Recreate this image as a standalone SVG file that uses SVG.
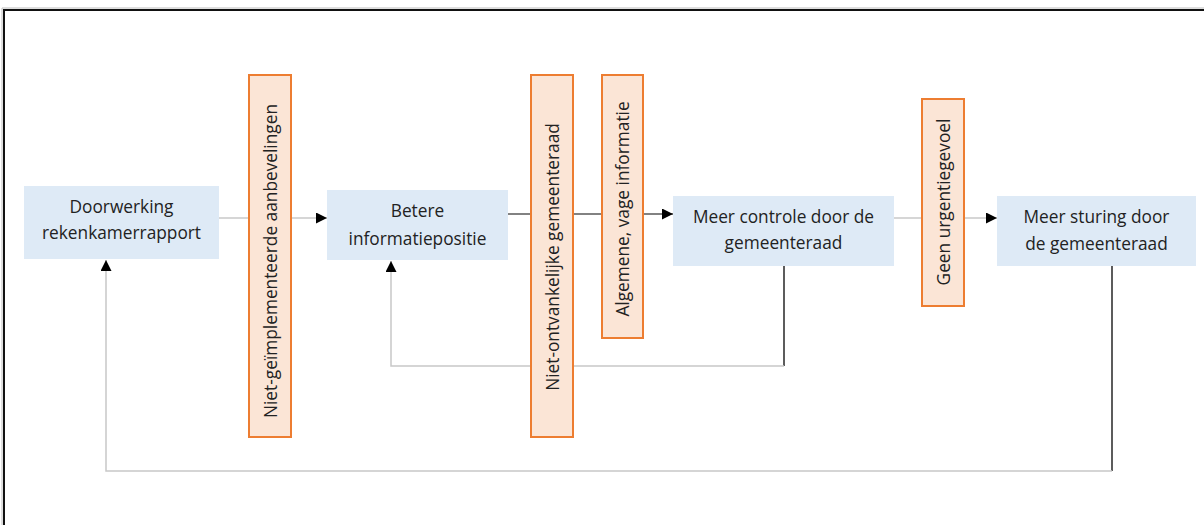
<svg xmlns="http://www.w3.org/2000/svg" width="1204" height="525" viewBox="0 0 1204 525">
<style>
.node{fill:#DEEAF6;}
.obst{fill:#FBE5D6;stroke:#ED7D31;stroke-width:2;}
.t{font-family:"Open Sans","Liberation Sans",sans-serif;font-size:17.3px;fill:#222;text-anchor:middle;}
.lg{fill:none;stroke:#C8C8C8;stroke-width:1.5;}
.dk{fill:none;stroke:#595959;stroke-width:1.5;}
.bk{fill:none;stroke:#262626;stroke-width:1.5;}
</style>
<defs>
<marker id="arr" viewBox="0 0 10 10" refX="10" refY="5" markerWidth="11" markerHeight="11" markerUnits="userSpaceOnUse" orient="auto">
<path d="M0,0 L10,5 L0,10 Z" fill="#000"/>
</marker>
</defs>
<rect width="1204" height="525" fill="#fff"/>
<g id="frame">
<polyline points="2,525 2,8 1204,8" fill="none" stroke="#BDBDBD" stroke-width="1"/>
<polyline points="4,525 4,10 1204,10" fill="none" stroke="#111" stroke-width="2"/>
</g>
<g id="connectors">
<line class="lg" x1="219" y1="218" x2="327" y2="218" marker-end="url(#arr)"/>
<polyline class="dk" points="508,214 673,214" marker-end="url(#arr)"/>
<line class="lg" x1="894" y1="218" x2="997" y2="218" marker-end="url(#arr)"/>
<line class="bk" x1="784" y1="266" x2="784" y2="366"/>
<polyline class="lg" points="784,366 391,366 391,261" marker-end="url(#arr)"/>
<line class="bk" x1="1112" y1="266" x2="1112" y2="471"/>
<polyline class="lg" points="1112,471 106,471 106,260" marker-end="url(#arr)"/>
</g>
<g id="n1">
<rect class="node" x="24" y="186" width="195" height="73"/>
<text class="t" x="121.5" y="213">Doorwerking</text>
<text class="t" x="121.5" y="239">rekenkamerrapport</text>
</g>
<g id="n2">
<rect class="node" x="327" y="190" width="181" height="70"/>
<text class="t" x="417.5" y="217">Betere</text>
<text class="t" x="417.5" y="245">informatiepositie</text>
</g>
<g id="n3">
<rect class="node" x="673" y="196" width="221" height="70"/>
<text class="t" x="783.5" y="223">Meer controle door de</text>
<text class="t" x="783.5" y="249">gemeenteraad</text>
</g>
<g id="n4">
<rect class="node" x="997" y="196" width="199" height="70"/>
<text class="t" x="1096.5" y="223">Meer sturing door</text>
<text class="t" x="1096.5" y="250">de gemeenteraad</text>
</g>
<g id="o1">
<rect class="obst" x="249" y="75" width="42" height="362"/>
<text class="t" transform="translate(277,261) rotate(-90)">Niet-geïmplementeerde aanbevelingen</text>
</g>
<g id="o2">
<rect class="obst" x="531" y="75" width="42" height="362"/>
<text class="t" transform="translate(559,257) rotate(-90)">Niet-ontvankelijke gemeenteraad</text>
</g>
<g id="o3">
<rect class="obst" x="602" y="75" width="41" height="263"/>
<text class="t" transform="translate(629,209) rotate(-90)">Algemene, vage informatie</text>
</g>
<g id="o4">
<rect class="obst" x="922" y="99" width="42" height="207"/>
<text class="t" transform="translate(950,202) rotate(-90)">Geen urgentiegevoel</text>
</g>
</svg>
